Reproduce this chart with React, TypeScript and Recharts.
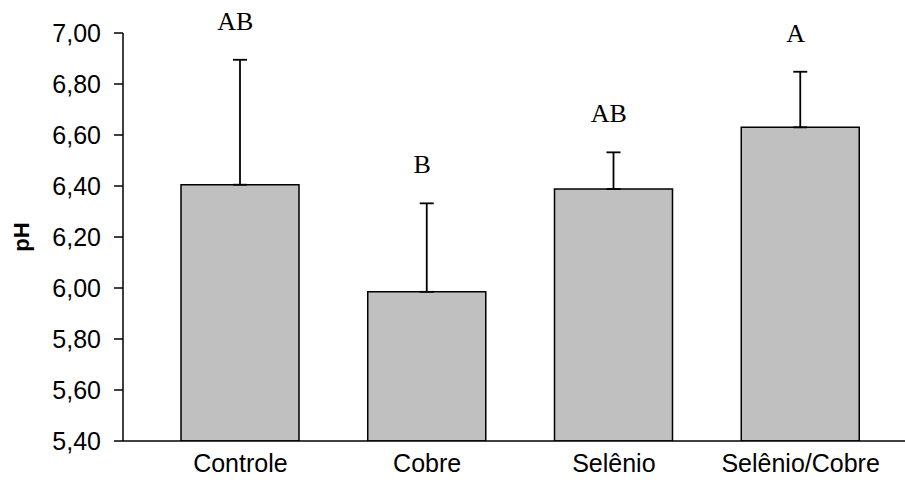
import React from "react";
import {
  Bar,
  Line,
  XAxis,
  YAxis,
  ErrorBar,
  LabelList,
  ComposedChart,
} from "recharts";

const categories = ["Controle", "Cobre", "Selênio", "Selênio/Cobre"];
const means = [6.405, 5.985, 6.388, 6.63];
const errors = [0.49, 0.347, 0.144, 0.218];
const letters = ["AB", "B", "AB", "A"];
const yTicks = [5.4, 5.6, 5.8, 6.0, 6.2, 6.4, 6.6, 6.8, 7.0];

const data = categories.map((name, i) => ({
  name,
  ph: means[i],
  err: [0, errors[i]],
  top: means[i] + errors[i],
  letter: letters[i],
}));

const sans = "'Liberation Sans', Arial, sans-serif";
const serif = "'Liberation Serif', 'Times New Roman', serif";

const fmt = (v: number) => v.toFixed(2).replace(".", ",");

export default function App() {
  return (
    <div style={{ position: "absolute", left: 0, top: 0 }}>
      <ComposedChart
        width={905}
        height={482}
        data={data}
        margin={{ top: 33, right: 0, bottom: 0, left: 0 }}
      >
        <XAxis
          dataKey="name"
          height={41}
          tickLine={false}
          tickSize={0}
          tickMargin={13}
          padding={{ left: 24, right: 11 }}
          axisLine={{ stroke: "#000", strokeWidth: 1.5 }}
          tick={{ fill: "#000", fontSize: 25, fontFamily: sans }}
          interval={0}
        />
        <YAxis
          width={123}
          domain={[5.4, 7.0]}
          allowDataOverflow
          ticks={yTicks}
          tickFormatter={fmt}
          tickSize={9}
          tickMargin={13}
          axisLine={{ stroke: "#000", strokeWidth: 1.5 }}
          tickLine={{ stroke: "#000", strokeWidth: 1.5 }}
          tick={{ fill: "#000", fontSize: 25, fontFamily: sans }}
          label={{
            content: (props: any) => {
              const vb = props.viewBox || {};
              const cx = (vb.x || 0) + 29;
              const cy = (vb.y || 0) + (vb.height || 0) / 2;
              return (
                <text
                  x={cx}
                  y={cy}
                  transform={`rotate(-90, ${cx}, ${cy})`}
                  textAnchor="middle"
                  fontFamily={sans}
                  fontWeight="bold"
                  fontSize={22}
                  fill="#000"
                >
                  pH
                </text>
              );
            },
          }}
        />
        <Bar
          dataKey="ph"
          barSize={118}
          fill="#c0c0c0"
          stroke="#000"
          strokeWidth={1.5}
          isAnimationActive={false}
        >
          <ErrorBar
            dataKey="err"
            direction="y"
            width={7}
            stroke="#000"
            strokeWidth={1.8}
            isAnimationActive={false}
          />
        </Bar>
        <Line
          dataKey="top"
          stroke="none"
          dot={false}
          activeDot={false}
          isAnimationActive={false}
        >
          <LabelList
            dataKey="letter"
            position="top"
            offset={30}
            fill="#000"
            fontSize={26}
            fontFamily={serif}
            dx={-5}
          />
        </Line>
      </ComposedChart>
    </div>
  );
}
